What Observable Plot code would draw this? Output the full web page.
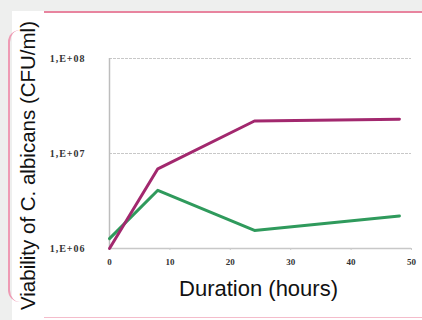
<!DOCTYPE html>
<html>
<head>
<meta charset="utf-8">
<script src="https://cdn.jsdelivr.net/npm/d3@7"></script>
<script src="https://cdn.jsdelivr.net/npm/@observablehq/plot@0.6"></script>
<style>
  html, body { margin: 0; padding: 0; background: #eeefee; }
  #wrap { position: relative; width: 422px; height: 320px; overflow: hidden; }
  #white { position: absolute; left: 12px; top: 11px; right: 0; bottom: 0; background: #fff; }
  #topline { position: absolute; left: 44px; top: 11px; right: 0; height: 2px; background: #e8849f; }
  #leftline { position: absolute; left: 8px; top: 30px; width: 12px; height: 272px;
              border-left: 2px solid #ee9bb4; border-top-left-radius: 12px; border-bottom-left-radius: 12px; }
  #botline { position: absolute; left: 44px; top: 317px; right: 0; height: 1px; background: #f4bccb; }
  #chart { position: absolute; left: 0; top: 0; }
  #chart g[aria-label="y-axis tick label"] text { letter-spacing: 1px; }
</style>
</head>
<body>
<div id="wrap">
  <div id="white"></div>
  <div id="topline"></div>
  <div id="leftline"></div>
  <div id="botline"></div>
  <div id="chart"></div>
</div>
<script>
const hours = [0, 8, 24, 48];
const seriesA = [1.0e6, 6.9e6, 2.2e7, 2.3e7];   // purple
const seriesB = [1.27e6, 4.1e6, 1.55e6, 2.2e6]; // green
const xTicks = [0, 10, 20, 30, 40, 50];
const yTicks = [1e6, 1e7, 1e8];
const yTickLabels = ["1,E+06", "1,E+07", "1,E+08"];
const xLabel = "Duration (hours)";
const yLabel = "Viability of C. albicans (CFU/ml)";

const purple = hours.map((h, i) => ({h, v: seriesA[i]}));
const green = hours.map((h, i) => ({h, v: seriesB[i]}));

const chart = Plot.plot({
  width: 422,
  height: 320,
  marginLeft: 109,
  marginRight: 11,
  marginTop: 58,
  marginBottom: 72,
  style: {background: "transparent", overflow: "visible"},
  x: {domain: [0, 50]},
  y: {type: "log", domain: [1e6, 1e8]},
  marks: [
    Plot.gridY([1e7, 1e8], {stroke: "#c8c8c8", strokeOpacity: 1, strokeDasharray: "3,1"}),
    Plot.ruleX([0], {stroke: "#bdbdbd", strokeWidth: 1.5}),
    Plot.ruleY([1e6], {stroke: "#c8c8c8", strokeWidth: 1.5}),
    Plot.axisY(yTicks, {
      tickSize: 0, tickPadding: 24, label: null,
      tickFormat: (d) => yTickLabels[yTicks.indexOf(d)],
      fontSize: 10, fontFamily: "Liberation Serif", fontWeight: "bold", fill: "#333"
    }),
    Plot.axisX(xTicks, {
      tickSize: 2, tickPadding: 8, label: null, stroke: "#ccc",
      fontSize: 9, fontFamily: "Liberation Serif", fontWeight: "bold", fill: "#333"
    }),
    Plot.line(green, {x: "h", y: "v", stroke: "#2f9a5c", strokeWidth: 3}),
    Plot.line(purple, {x: "h", y: "v", stroke: "#a2286e", strokeWidth: 3}),
    Plot.text([xLabel], {frameAnchor: "bottom", textAnchor: "middle", dy: 47, dx: -2, fontSize: 22,
      fontFamily: "Liberation Sans", fill: "#111"}),
    Plot.text([yLabel], {frameAnchor: "left", textAnchor: "middle", rotate: -90, dx: -81, dy: 12, fontSize: 20.5,
      fontFamily: "Liberation Sans", fill: "#111"})
  ]
});
document.getElementById("chart").appendChild(chart);
</script>
</body>
</html>
